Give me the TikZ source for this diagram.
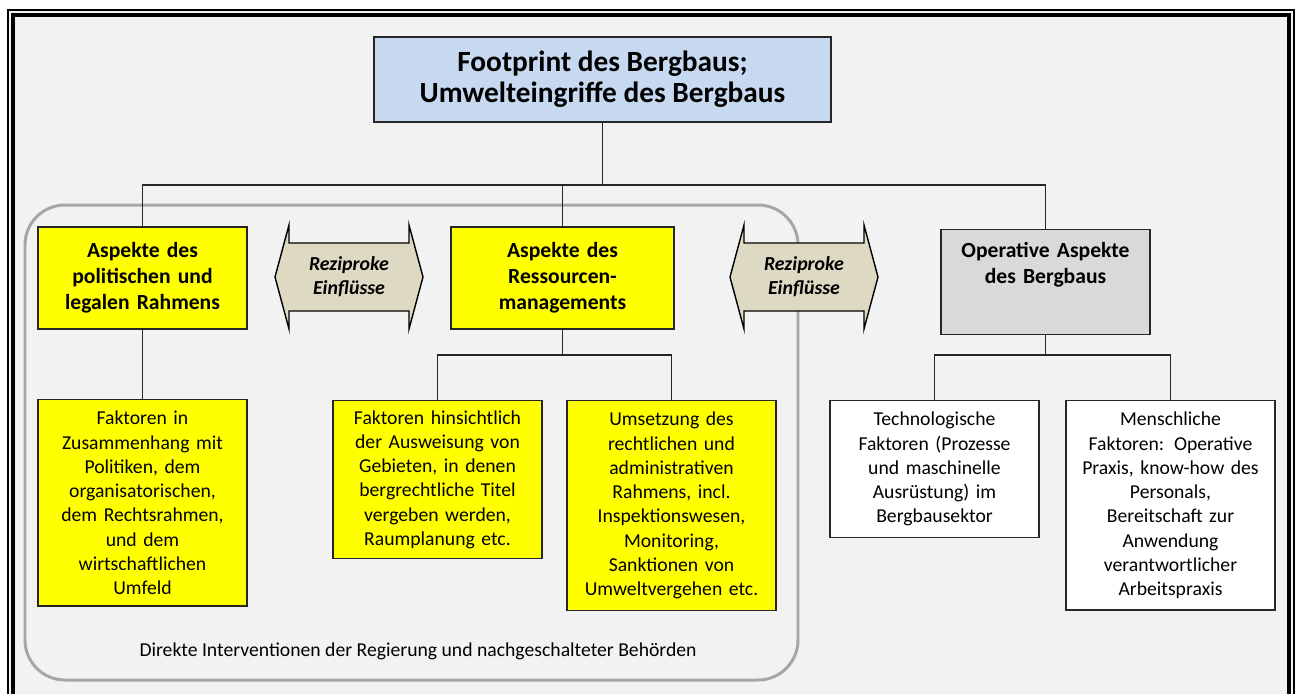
\documentclass[tikz,border=0pt]{standalone}
\usepackage{fontspec}
\setmainfont{Carlito}
\usetikzlibrary{positioning}
\definecolor{titleblue}{HTML}{C6D9F1}
\definecolor{boxyellow}{HTML}{FFFF00}
\definecolor{boxgray}{HTML}{D9D9D9}
\definecolor{arrowbeige}{HTML}{DDD9C3}
\definecolor{pagegray}{HTML}{F2F2F2}
\definecolor{roundgray}{HTML}{A6A6A6}

\begin{document}
\begin{tikzpicture}[x=0.02cm,y=-0.02cm]
  \tikzstyle{box}=[draw=black!85,line width=0.8pt,align=center,inner xsep=0.14cm]
  \tikzstyle{aspect}=[box,font=\fontsize{12.3}{14.7}\selectfont\bfseries,text width=3.9cm,minimum height=2.04cm]
  \tikzstyle{factor}=[box,anchor=north,font=\fontsize{11.2}{13.8}\selectfont,text width=3.9cm,inner ysep=6.5pt]
  \tikzstyle{link}=[line width=0.8pt,black!85]
  \tikzstyle{recip}=[draw=black,line width=0.8pt,fill=arrowbeige]
  \tikzstyle{reciptext}=[align=center,font=\fontsize{11.3}{13.8}\selectfont\bfseries\itshape]
  \useasboundingbox (0,0) rectangle (1296,694);
  % page and double frame
  \fill[white] (0,0) rectangle (1296,694);
  \fill[pagegray] (8,10) rectangle (1294,694);
  \draw[line width=0.6pt] (8,694) -- (8,10) -- (1294,10) -- (1294,694);
  \draw[line width=2.5pt] (13,694) -- (13,15) -- (1289,15) -- (1289,694);
  % group: direct interventions
  \draw[roundgray,line width=1.7pt,rounded corners=0.8cm] (25,205) rectangle (798,680);
  \node[font=\fontsize{11.2}{13.8}\selectfont] (direkt) at (418,651)
    {Direkte Interventionen der Regierung und nachgeschalteter Behörden};
  % reciprocal influences
  \begin{scope}[shift={(349,277)}]
    \draw[recip] (-74,0) -- (-60,-52) -- (-60,-34) -- (60,-34) -- (60,-52) -- (74,0)
      -- (60,52) -- (60,34) -- (-60,34) -- (-60,52) -- cycle;
    \node[reciptext] (reziprok1) at (0,0) {Reziproke\\Einflüsse};
  \end{scope}
  \begin{scope}[shift={(804,277)}]
    \draw[recip] (-74,0) -- (-60,-52) -- (-60,-34) -- (60,-34) -- (60,-52) -- (74,0)
      -- (60,52) -- (60,34) -- (-60,34) -- (-60,52) -- cycle;
    \node[reciptext] (reziprok2) at (0,0) {Reziproke\\Einflüsse};
  \end{scope}
  % boxes
  \node[box,fill=titleblue,font=\fontsize{16.7}{17.6}\selectfont\bfseries,minimum width=9.14cm,minimum height=1.7cm]
    (title) at (602.5,79.5) {Footprint des Bergbaus;\\Umwelteingriffe des Bergbaus};
  \node[aspect,fill=boxyellow] (politik) at (142.5,278) {Aspekte des\\politischen und\\legalen Rahmens};
  \node[aspect,fill=boxyellow,text width=4.18cm] (ressourcen) at (562.5,278) {Aspekte des\\Ressourcen-\\managements};
  \node[aspect,fill=boxgray,anchor=north,minimum height=0pt,text depth=1.3cm,inner ysep=7pt]
    (operativ) at (1045.5,229) {Operative Aspekte\\des Bergbaus};
  \node[factor,fill=boxyellow] (faktoren) at (142.5,399) {Faktoren in\\Zusammenhang mit\\Politiken, dem\\organisatorischen,\\dem Rechtsrahmen,\\und dem\\wirtschaftlichen\\Umfeld};
  \node[factor,fill=boxyellow,inner ysep=5.5pt] (gebiete) at (437.5,400) {Faktoren hinsichtlich\\der Ausweisung von\\Gebieten, in denen\\bergrechtliche Titel\\vergeben werden,\\Raumplanung etc.};
  \node[factor,fill=boxyellow] (umsetzung) at (671.5,400) {Umsetzung des\\rechtlichen und\\administrativen\\Rahmens, incl.\\Inspektionswesen,\\Monitoring,\\Sanktionen von\\Umweltvergehen etc.};
  \node[factor,fill=white] (technik) at (934.5,400) {Technologische\\Faktoren (Prozesse\\und maschinelle\\Ausrüstung) im\\Bergbausektor};
  \node[factor,fill=white] (mensch) at (1170.5,400) {Menschliche\\Faktoren: Operative\\Praxis, know-how des\\Personals,\\Bereitschaft zur\\Anwendung\\verantwortlicher\\Arbeitspraxis};
  % connectors
  \coordinate (bus) at (602.5,185);
  \coordinate (bus2) at (562.5,355);
  \coordinate (bus3) at (1045.5,355);
  \draw[link] (title) -- (bus);
  \draw[link] (politik.north) |- (bus);
  \draw[link] (operativ.north) |- (bus);
  \draw[link] (ressourcen.north) -- (ressourcen.north |- bus);
  \draw[link] (politik) -- (faktoren);
  \draw[link] (ressourcen) -- (bus2);
  \draw[link] (gebiete.north) |- (bus2);
  \draw[link] (umsetzung.north) |- (bus2);
  \draw[link] (operativ.south) -- (bus3);
  \draw[link] (technik.north) |- (bus3);
  \draw[link] (mensch.north) |- (bus3);
\end{tikzpicture}
\end{document}
